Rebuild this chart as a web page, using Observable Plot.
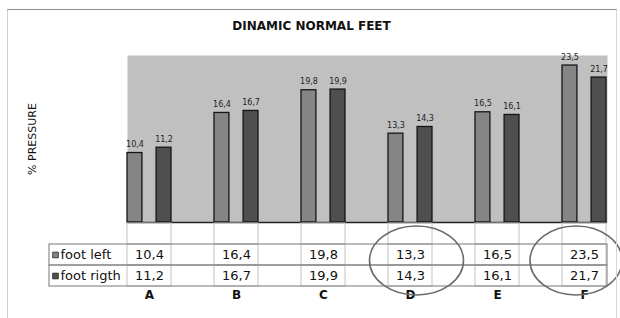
<!DOCTYPE html>
<html>
<head>
<meta charset="utf-8">
<script src="https://cdn.jsdelivr.net/npm/d3@7"></script>
<script src="https://cdn.jsdelivr.net/npm/@observablehq/plot@0.6"></script>
<style>
  body { margin: 0; background: #fff; }
  #wrap { position: relative; width: 620px; height: 318px; overflow: hidden; background: #fff; font-family: "DejaVu Sans", sans-serif; }
  #border { position: absolute; left: 7px; top: 9px; width: 608px; height: 400px; border-top: 1.5px solid #8c8c8c; border-left: 1px solid #cfcfcf; border-right: 1px solid #d6d6d6; z-index: 3; pointer-events: none; }
  #title { position: absolute; left: 7px; width: 609px; top: 19px; line-height: 14px; text-align: center; font-weight: bold; font-size: 12px; color: #111; z-index: 2; }
  #chart { position: absolute; left: 0; top: 40px; }
  #table { position: absolute; left: 0; top: 222px; }
</style>
</head>
<body>
<div id="wrap">
  <div id="title">DINAMIC NORMAL FEET</div>
  <div id="chart"></div>
  <div id="table"></div>
  <div id="border"></div>
</div>
<script>
const categories = ["A", "B", "C", "D", "E", "F"];
const series = ["foot left", "foot rigth"];
const footLeft = [10.4, 16.4, 19.8, 13.3, 16.5, 23.5];
const footRight = [11.2, 16.7, 19.9, 14.3, 16.1, 21.7];
const circled = ["D", "F"];
const yLabel = "% PRESSURE";

const colors = ["#858585", "#4f4f4f"];
const fmt = v => v.toFixed(1).replace(".", ",");

const data = categories.flatMap((c, i) => [
  {cat: c, series: series[0], value: footLeft[i]},
  {cat: c, series: series[1], value: footRight[i]}
]);
const leftData = data.filter(d => d.series === series[0]);
const rightData = data.filter(d => d.series === series[1]);

const x0 = 127, x1 = 607;
const step = (x1 - x0) / (categories.length - 0.5);
const bw = step / 2;
const xOpts = {domain: categories, range: [x0, x1], paddingInner: 0.5, paddingOuter: 0, align: 0, axis: null};
const colorOpts = {domain: series, range: colors};
const baseStyle = {fontFamily: "DejaVu Sans, sans-serif", background: "transparent", color: "#111", overflow: "visible"};

const chart = Plot.plot({
  width: 620, height: 183,
  marginTop: 15, marginBottom: 1, marginLeft: 127, marginRight: 13,
  x: xOpts,
  y: {domain: [0, 25], axis: null},
  color: colorOpts,
  style: baseStyle,
  marks: [
    Plot.frame({fill: "#c0c0c0", stroke: "none"}),
    Plot.barY(leftData, {x: "cat", y: "value", fill: "series", stroke: "#151515", strokeWidth: 1.3, insetRight: 2 * bw / 3}),
    Plot.barY(rightData, {x: "cat", y: "value", fill: "series", stroke: "#151515", strokeWidth: 1.3, insetLeft: 2 * bw / 3}),
    Plot.text(leftData, {x: "cat", y: "value", text: d => fmt(d.value), dx: -bw / 3, dy: -6, lineAnchor: "bottom", fontSize: 8, fill: "#222"}),
    Plot.text(rightData, {x: "cat", y: "value", text: d => fmt(d.value), dx: bw / 3, dy: -6, lineAnchor: "bottom", fontSize: 8, fill: "#222"}),
    Plot.ruleY([0], {stroke: "#222", strokeWidth: 1.5}),
    Plot.text([yLabel], {frameAnchor: "left", textAnchor: "middle", rotate: -90, dx: -95, fontSize: 11, fill: "#111"})
  ]
});
document.getElementById("chart").appendChild(chart);

const rowsAll = [" ", ...series];
const cellData = categories.flatMap(c => rowsAll.map(r => ({cat: c, row: r})));

const table = Plot.plot({
  width: 620, height: 96,
  marginTop: 0, marginBottom: 31, marginLeft: 49, marginRight: 13,
  x: xOpts,
  y: {domain: rowsAll, axis: null, padding: 0},
  color: colorOpts,
  style: baseStyle,
  marks: [
    Plot.cell(cellData, {x: "cat", y: "row", fill: "none", stroke: "#c4c4c4", strokeWidth: 1}),
    Plot.cell(series, {y: d => d, fill: "none", stroke: "#8e8e8e", strokeWidth: 1.2}),
    Plot.dot(series, {y: d => d, frameAnchor: "left", dx: 6, symbol: "square", r: 3.2, fill: d => d, stroke: "#222", strokeWidth: 0.8}),
    Plot.text(series, {y: d => d, frameAnchor: "left", dx: 11, textAnchor: "start", fontSize: 13, fill: "#111"}),
    Plot.text(data, {x: "cat", y: "series", text: d => fmt(d.value), fontSize: 13, fill: "#111"}),
    Plot.text(categories, {x: d => d, frameAnchor: "bottom", dy: 11, fontSize: 12, fontWeight: "bold", fill: "#111"})
  ]
});
document.getElementById("table").appendChild(table);

// circled annotations, positioned with the table's own x scale
const xs = table.scale("x");
const offsets = {D: 6.5, F: -8};
const radii = {D: 47, F: 46};
d3.select(table).selectAll("ellipse.note")
  .data(circled)
  .join("ellipse")
  .attr("class", "note")
  .attr("cx", c => xs.apply(c) + xs.bandwidth / 2 + offsets[c])
  .attr("cy", 38.5)
  .attr("rx", c => radii[c])
  .attr("ry", 34.5)
  .attr("fill", "none")
  .attr("stroke", "#6a6a6a")
  .attr("stroke-width", 1.6);
</script>
</body>
</html>
